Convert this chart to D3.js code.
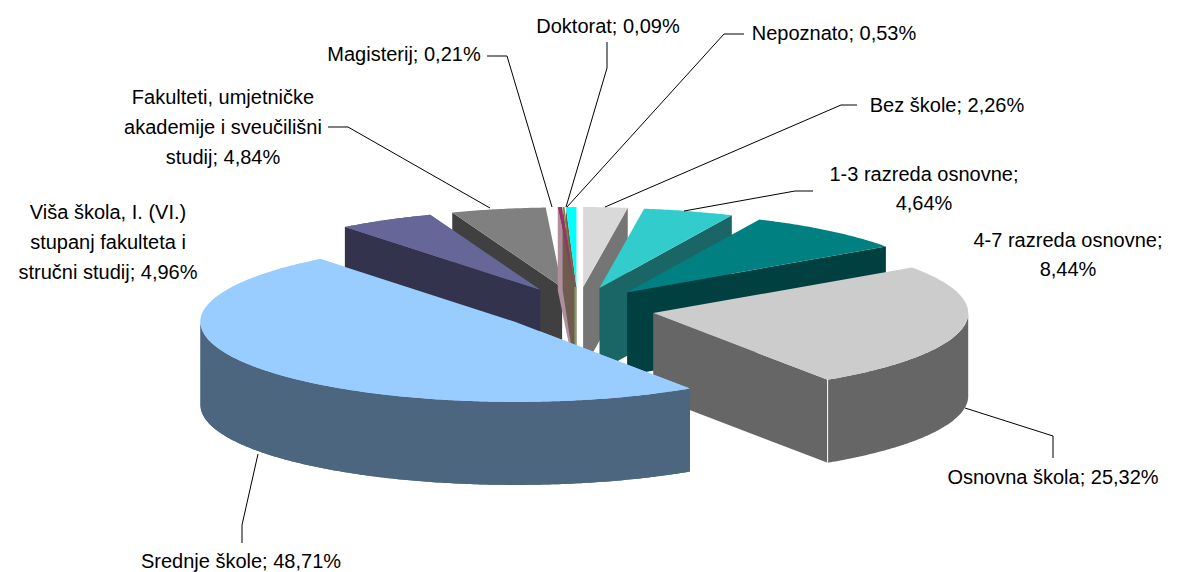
<!DOCTYPE html>
<html><head><meta charset="utf-8">
<script src="https://cdn.jsdelivr.net/npm/d3@7/dist/d3.min.js"></script>
<style>html,body{margin:0;padding:0;background:#fff}svg{display:block}text{font-family:"Liberation Sans",Arial,sans-serif;font-size:20px;fill:#000}</style>
</head><body><div id="chart"></div>
<script>
const categories = ["Bez škole","1-3 razreda osnovne","4-7 razreda osnovne","Osnovna škola","Srednje škole","Viša škola, I. (VI.) stupanj fakulteta i stručni studij","Fakulteti, umjetničke akademije i sveučilišni studij","Magisterij","Doktorat","Nepoznato"];
const shares = [2.26,4.64,8.44,25.32,48.71,4.96,4.84,0.21,0.09,0.53];
const topColors = ["#D9D9D9","#33CCCC","#008080","#CCCCCC","#99CCFF","#666699","#808080","#993366","#808040","#00FFFF"];
const wallColors = ["#757575","#1A6666","#004040","#666666","#4D6680","#33334D","#404040","#AD8F9E","#6E5C4E","#6E5C4E"];
// painting order, back to front
const paintOrder = [0,1,2,3,6,7,8,9,5,4];
// label layout: text lines, centre x, centre y of each line
const labelLayout = [
 {i:0,lines:["Bez škole; 2,26%"],x:947,y:[105]},
 {i:1,lines:["1-3 razreda osnovne;","4,64%"],x:924,y:[174,203]},
 {i:2,lines:["4-7 razreda osnovne;","8,44%"],x:1068,y:[240,269]},
 {i:3,lines:["Osnovna škola; 25,32%"],x:1053,y:[477]},
 {i:4,lines:["Srednje škole; 48,71%"],x:241,y:[561]},
 {i:5,lines:["Viša škola, I. (VI.)","stupanj fakulteta i","stručni studij; 4,96%"],x:108,y:[212,242,272]},
 {i:6,lines:["Fakulteti, umjetničke","akademije i sveučilišni","studij; 4,84%"],x:223,y:[97,127,157]},
 {i:7,lines:["Magisterij; 0,21%"],x:404,y:[54]},
 {i:8,lines:["Doktorat; 0,09%"],x:608,y:[26]},
 {i:9,lines:["Nepoznato; 0,53%"],x:834,y:[33]}
];
const leaders = [
 [[857,105],[841,105],[605,207]],
 [[813,191],[795,191],[684,211]],
 [[1053,458],[1053,436],[965,408]],
 [[242,543],[242,525],[258,454]],
 [[328,127],[348,127],[490,208]],
 [[487,56],[507,56],[552,207]],
 [[607,42],[607,68],[566,207]],
 [[744,34],[724,34],[567,207]]
];

const W=1177,H=572;
const svg=d3.select("#chart").append("svg").attr("width",W).attr("height",H);
svg.append("rect").attr("width",W).attr("height",H).attr("fill","#fff");

const x=d3.scaleLinear().domain([-1,1]).range([577.7-315,577.7+315]);
const y=d3.scaleLinear().domain([-1,1]).range([309-80,309+80]); // +y is toward the viewer
const depth=83, explodeX=0.244, explodeY=0.275;

const arcs=d3.pie().value(d=>d).sort(null).startAngle(0).endAngle(2*Math.PI)(shares);
const line=d3.line().x(p=>p[0]).y(p=>p[1]);
function centre(a){const m=(a.startAngle+a.endAngle)/2;return [Math.sin(m)*explodeX,-Math.cos(m)*explodeY];}
function rim(a,t,dz=0){const c=centre(a);return [x(c[0]+Math.sin(t)),y(c[1]-Math.cos(t))+dz];}
function apex(a,dz=0){const c=centre(a);return [x(c[0]),y(c[1])+dz];}
function samples(t0,t1){const n=Math.max(2,Math.ceil((t1-t0)/0.01));return d3.range(n+1).map(k=>t0+(t1-t0)*k/n);}

const g=svg.append("g");
function wall(a,t,col){
  g.append("path").attr("d",line([apex(a),rim(a,t),rim(a,t,depth),apex(a,depth)])+"Z").attr("fill",col);
}
const pi=Math.PI;
// side walls first for the thin back slices, so the thin tops can lie over them
paintOrder.forEach(i=>{
  const a=arcs[i],col=wallColors[i];
  if(Math.sin(a.startAngle)<0) wall(a,a.startAngle,col);
  if(Math.sin(a.endAngle)>0) wall(a,a.endAngle,col);
  const t0=Math.max(a.startAngle,pi/2),t1=Math.min(a.endAngle,3*pi/2);
  if(t1>t0){
    const ts=samples(t0,t1);
    const pts=ts.map(t=>rim(a,t)).concat(ts.slice().reverse().map(t=>rim(a,t,depth)));
    g.append("path").attr("d",line(pts)+"Z").attr("fill",col);
  }
  if(i===9){ // narrow olive strip on the thin slice's inner edge
    const p=apex(a),q=apex(a,depth);
    g.append("path").attr("d",line([[p[0]-1,p[1]],[q[0]-1,q[1]]])).attr("stroke","#85996B").attr("stroke-width",2).attr("fill","none");
  }
  if(i>=7) return;
  drawTop(i);
  if(i===3){ // white seam at the outer corner
    const p=rim(a,a.endAngle),q=rim(a,a.endAngle,depth);
    g.append("path").attr("d",line([p,q])).attr("stroke","#fff").attr("stroke-width",1).attr("fill","none");
  }
});
function drawTop(i){
  const a=arcs[i];
  const pts=[apex(a)].concat(samples(a.startAngle,a.endAngle).map(t=>rim(a,t)));
  g.append("path").attr("d",line(pts)+"Z").attr("fill",topColors[i]);
}
// Thin slices' tops; then re-lay the slices in front of them
[7,8,9].forEach(drawTop);
[5,4].forEach(i=>{
  const a=arcs[i],col=wallColors[i];
  if(Math.sin(a.startAngle)<0) wall(a,a.startAngle,col);
  const t0=Math.max(a.startAngle,pi/2),t1=Math.min(a.endAngle,3*pi/2);
  if(t1>t0){
    const ts=samples(t0,t1);
    const pts=ts.map(t=>rim(a,t)).concat(ts.slice().reverse().map(t=>rim(a,t,depth)));
    g.append("path").attr("d",line(pts)+"Z").attr("fill",col);
  }
  drawTop(i);
});

svg.append("g").selectAll("path").data(leaders).join("path")
  .attr("d",d=>line(d)).attr("fill","none").attr("stroke","#000").attr("stroke-width",1);

const lg=svg.append("g");
labelLayout.forEach(l=>l.lines.forEach((s,k)=>{
  lg.append("text").attr("x",l.x).attr("y",l.y[k]).attr("dy","0.35em").attr("text-anchor","middle").text(s);
}));
</script></body></html>
